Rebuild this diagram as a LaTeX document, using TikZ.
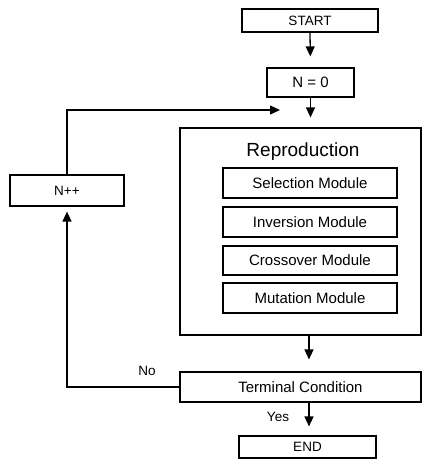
\documentclass[tikz,border=0pt]{standalone}
\usepackage{fontspec}
\setmainfont{Liberation Sans}
\usetikzlibrary{arrows.meta}
\begin{document}
\begin{tikzpicture}[x=1pt,y=-1pt,
  box/.style={draw,line width=1.2pt,inner sep=0pt,font=\fontsize{15}{17}\selectfont},
  conn/.style={line width=1.3pt},
  arr/.style={conn,-{Triangle[length=10pt,width=9pt]}}]
\useasboundingbox (0,0) rectangle (423,459);
\node[box,minimum width=136pt,minimum height=23pt,font=\fontsize{13.5}{15}\selectfont] (start) at (310,20.5) {START};
\node[box,minimum width=87pt,minimum height=29pt] (n0) at (310.5,82.5) {N = 0};
\node[box,minimum width=241pt,minimum height=207pt] (repro) at (300.5,231.5) {};
\node[font=\fontsize{19}{21}\selectfont] (rlab) at (303,152) {Reproduction};
\node[box,minimum width=174pt,minimum height=30pt] (sel) at (310,183) {Selection Module};
\node[box,minimum width=174pt,minimum height=30pt] (inv) at (310,222) {Inversion Module};
\node[box,minimum width=174pt,minimum height=29pt] (cro) at (310,260.5) {Crossover Module};
\node[box,minimum width=174pt,minimum height=30pt] (mut) at (310,298) {Mutation Module};
\node[box,minimum width=114pt,minimum height=31pt,font=\fontsize{13.5}{15}\selectfont] (npp) at (67,190.5) {N{+}{+}};
\node[box,minimum width=241pt,minimum height=30pt] (term) at (300.5,387) {Terminal Condition};
\node[box,minimum width=137pt,minimum height=22pt,font=\fontsize{13.5}{15}\selectfont] (end) at (307.5,447) {END};
\node[font=\fontsize{13.5}{15}\selectfont] (no) at (147,371) {No};
\node[font=\fontsize{13.5}{15}\selectfont] (yes) at (278,417) {Yes};
\coordinate (loopend) at (280,110);
\draw[arr,shorten >=11pt] (start.south) -- (n0.north);
\draw[arr,shorten >=10pt] (n0.south) -- (n0.south |- repro.north);
\draw[arr] (npp.north) |- (loopend);
\draw[arr,shorten >=12pt] (repro.south -| 309,0) -- (term.north -| 309,0);
\draw[arr,shorten >=5pt] (term.west) -| (npp.south);
\draw[arr,shorten >=9pt] (term.south -| 309,0) -- (end.north -| 309,0);
\end{tikzpicture}
\end{document}
